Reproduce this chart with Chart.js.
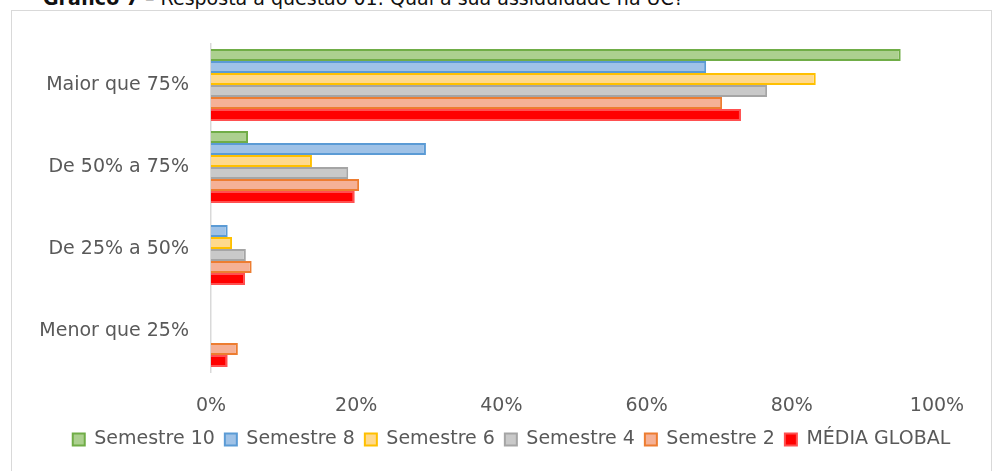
<!DOCTYPE html>
<html>
<head>
<meta charset="utf-8">
<script src="https://cdn.jsdelivr.net/npm/chart.js@4.4.0/dist/chart.umd.min.js"></script>
<style>
  body { margin: 0; background: #fff; overflow: hidden; }
  #title { position: absolute; left: 43px; top: -13px; font-family: "DejaVu Sans", sans-serif; font-size: 19px; color: #111; white-space: nowrap; }
  #frame { position: absolute; left: 11px; top: 10px; width: 981px; height: 480px; border: 1px solid #d9d9d9; box-sizing: border-box; }
  #wrap { position: absolute; left: 0; top: 0; width: 996px; height: 471px; }
</style>
</head>
<body>
<div id="title"><b>Gráfico 7</b> – Resposta à questão 01: Qual a sua assiduidade na UC?</div>
<div id="frame"></div>
<div id="wrap"><canvas id="chart"></canvas></div>
<script>
// ===== Data =====
const categories = ["Maior que 75%", "De 50% a 75%", "De 25% a 50%", "Menor que 25%"];
const seriesNames = ["Semestre 10", "Semestre 8", "Semestre 6", "Semestre 4", "Semestre 2", "MÉDIA GLOBAL"];
const semestre10 = [95.0, 5.1, 0, 0];
const semestre8 = [68.2, 29.6, 2.3, 0];
const semestre6 = [83.3, 13.9, 2.9, 0];
const semestre4 = [76.6, 18.9, 4.8, 0];
const semestre2 = [70.4, 20.4, 5.6, 3.7];
const mediaGlobal = [73.0, 19.8, 4.7, 2.3];
const xTicks = [0, 20, 40, 60, 80, 100];

const fills = ["#acd08f", "#9fc2e7", "#ffd98d", "#c9c9c9", "#f5b196", "#ff0000"];
const borders = ["#70ad47", "#5b9bd5", "#ffc000", "#a5a5a5", "#ed7d31", "#ff5050"];
const values = [semestre10, semestre8, semestre6, semestre4, semestre2, mediaGlobal];

const font = { family: "'DejaVu Sans', sans-serif", size: 19 };

// nudge the legend a bit right, the original is not centred on the canvas
const shiftLegend = {
  id: "shiftLegend",
  afterLayout(chart) {
    chart.legend.left += 33;
    chart.legend.right += 33;
  }
};

new Chart(document.getElementById("chart"), {
  type: "bar",
  data: {
    labels: categories,
    datasets: seriesNames.map((name, i) => ({
      label: name,
      data: values[i],
      backgroundColor: fills[i],
      borderColor: borders[i],
      borderWidth: 2,
      categoryPercentage: 0.88,
      barPercentage: 1
    }))
  },
  options: {
    indexAxis: "y",
    responsive: true,
    maintainAspectRatio: false,
    animation: false,
    layout: { padding: { left: 20, right: 59, top: 44, bottom: 12 } },
    scales: {
      x: {
        min: 0, max: 100,
        afterBuildTicks: s => { s.ticks = xTicks.map(v => ({ value: v })); },
        grid: { display: false, drawTicks: false },
        border: { display: false },
        ticks: { color: "#595959", font: font, padding: 23, maxRotation: 0, callback: v => v + "%" },
        afterFit: s => { s.height = 48; }
      },
      y: {
        grid: { display: false, drawTicks: false },
        border: { display: true, color: "#d9d9d9", width: 1.5 },
        ticks: { color: "#595959", font: font, padding: 22 },
        afterFit: s => { s.width = 191; }
      }
    },
    plugins: {
      legend: {
        position: "bottom",
        labels: { color: "#595959", font: font, boxWidth: 12, boxHeight: 12, padding: 10 }
      },
      tooltip: { enabled: false }
    }
  },
  plugins: [shiftLegend]
});
</script>
</body>
</html>
